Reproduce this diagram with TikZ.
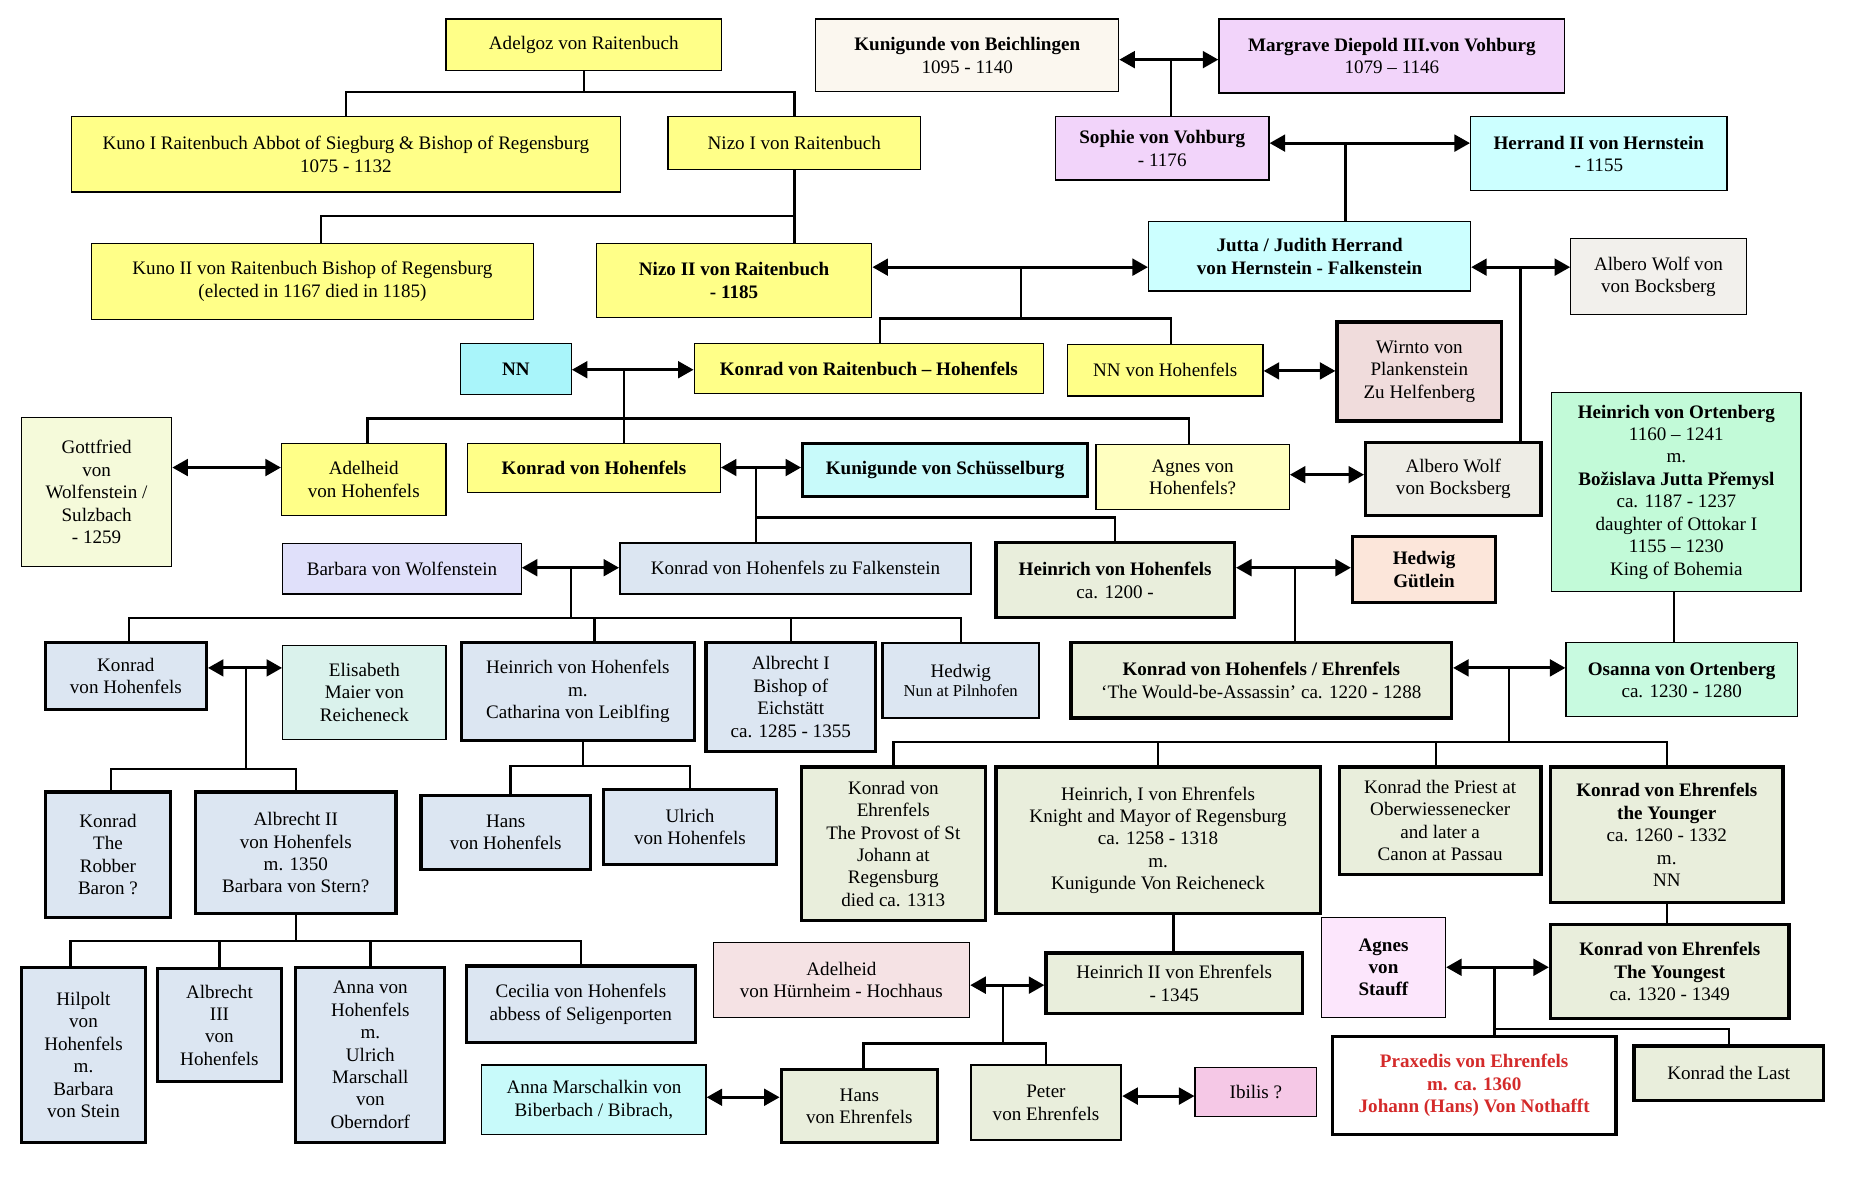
\documentclass[tikz,border=0pt]{standalone}
\usepackage{fontspec}
\setmainfont{Liberation Serif}
\usetikzlibrary{arrows.meta}
\definecolor{cyel}{HTML}{FFFF88}
\definecolor{ccream}{HTML}{FBF7EF}
\definecolor{cviol}{HTML}{F2D4FA}
\definecolor{ccyan}{HTML}{CCFFFF}
\definecolor{ccyanb}{HTML}{A9F5FA}
\definecolor{ccyanc}{HTML}{C8FAFA}
\definecolor{cgreya}{HTML}{F2F0EC}
\definecolor{cgreyb}{HTML}{EEEDE6}
\definecolor{cwirnto}{HTML}{F0DCDC}
\definecolor{cgott}{HTML}{F5FADA}
\definecolor{cagnes}{HTML}{FFFFC0}
\definecolor{cort}{HTML}{C2FAD8}
\definecolor{cosanna}{HTML}{C8FAE0}
\definecolor{cbarb}{HTML}{E0E0FA}
\definecolor{cblue}{HTML}{DCE6F2}
\definecolor{colive}{HTML}{E9EEDC}
\definecolor{chedg}{HTML}{FCE6DA}
\definecolor{celis}{HTML}{DAF2EC}
\definecolor{cadelh}{HTML}{F5E2E4}
\definecolor{cagness}{HTML}{FCE6FC}
\definecolor{cibilis}{HTML}{F5C8E6}
\definecolor{cred}{HTML}{D42A2A}
\newcommand\bx[7]{%
  \pgfmathsetmacro\bw{#4-#2}\pgfmathsetmacro\bh{#5-#3}%
  \pgfmathsetmacro\bcx{(#2+#4)/2}\pgfmathsetmacro\bcy{(#3+#5)/2}%
  \node[fbox,#6,minimum width=\bw pt,minimum height=\bh pt] (#1) at (\bcx,\bcy) {#7};}
\tikzset{
  fbox/.style={draw, line width=1pt, inner sep=1pt, align=center,
    font=\fontsize{16}{18.8}\selectfont, text=black},
  tk/.style={line width=2.7pt},
  md/.style={line width=1.9pt},
  ln/.style={line width=2pt},
  arr/.style={line width=2.4pt, {Triangle[length=13pt,width=14pt]}-{Triangle[length=13pt,width=14pt]}},
}
\begin{document}
\begin{tikzpicture}[x=1pt,y=-1pt]
\useasboundingbox (0,0) rectangle (1557,1008);
\fill[white] (0,0) rectangle (1557,1008);
% ---- row 1
\bx{adel}{374}{16}{605}{59}{fill=cyel}{Adelgoz von Raitenbuch}
\bx{kunb}{684}{16}{938}{77}{fill=ccream}{\textbf{Kunigunde von Beichlingen}\\1095 - 1140}
\bx{marg}{1022}{16}{1312}{78}{fill=cviol}{\textbf{Margrave Diepold III.von Vohburg}\\1079 – 1146}
% ---- row 2
\bx{kuno1}{60}{98}{520}{161}{fill=cyel}{Kuno I Raitenbuch Abbot of Siegburg \& Bishop of Regensburg\\1075 - 1132}
\bx{nizo1}{560}{98}{772}{142}{fill=cyel}{Nizo I von Raitenbuch}
\bx{sophie}{885}{98}{1064}{151}{fill=cviol}{\textbf{Sophie von Vohburg}\\- 1176}
\bx{herr}{1233}{98}{1448}{160}{fill=ccyan}{\textbf{Herrand II von Hernstein}\\- 1155}
% ---- row 3
\bx{kuno2}{77}{204}{447}{268}{fill=cyel}{Kuno II von Raitenbuch Bishop of Regensburg\\(elected in 1167 died in 1185)}
\bx{nizo2}{500}{204}{731}{266}{fill=cyel}{\textbf{Nizo II von Raitenbuch}\\\textbf{- 1185}}
\bx{jutta}{963}{186}{1233}{244}{fill=ccyan}{\textbf{Jutta / Judith Herrand}\\\textbf{von Hernstein - Falkenstein}}
\bx{albt}{1317}{200}{1464}{264}{fill=cgreya}{Albero Wolf von\\von Bocksberg}
% ---- row 4
\bx{nn}{386}{288}{479}{331}{fill=ccyanb}{\textbf{NN}}
\bx{konr}{582}{288}{875}{330}{fill=cyel}{\textbf{Konrad von Raitenbuch – Hohenfels}}
\bx{nnh}{895}{289}{1059}{332}{fill=cyel}{NN von Hohenfels}
\bx{wirnto}{1121}{270}{1259}{353}{fill=cwirnto,tk}{Wirnto von\\Plankenstein\\Zu Helfenberg}
% ---- row 5
\bx{gott}{18}{350}{144}{475}{fill=cgott}{Gottfried\\von\\Wolfenstein /\\Sulzbach\\- 1259}
\bx{adelh}{236}{372}{374}{432}{fill=cyel}{Adelheid\\von Hohenfels}
\bx{konh}{392}{372}{604}{413}{fill=cyel}{\textbf{Konrad von Hohenfels}}
\bx{kuns}{673}{372}{912}{416}{fill=ccyanc,tk}{\textbf{Kunigunde von Schüsselburg}}
\bx{agnes}{919}{373}{1081}{427}{fill=cagnes}{Agnes von\\Hohenfels?}
\bx{albl}{1145}{371}{1292}{432}{fill=cgreyb,tk}{Albero Wolf\\von Bocksberg}
\bx{ort}{1301}{329}{1510}{496}{fill=cort}{\textbf{Heinrich von Ortenberg}\\1160 – 1241\\m.\\\textbf{Božislava Jutta Přemysl}\\ca. 1187 - 1237\\daughter of Ottokar I\\1155 – 1230\\King of Bohemia}
% ---- row 6
\bx{barb}{237}{456}{437}{498}{fill=cbarb}{Barbara von Wolfenstein}
\bx{konf}{520}{455}{814}{498}{fill=cblue,md}{Konrad von Hohenfels zu Falkenstein}
\bx{heinh}{835}{455}{1035}{518}{fill=colive,tk}{\textbf{Heinrich von Hohenfels}\\ca. 1200 -}
\bx{hedg}{1134}{450}{1254}{505}{fill=chedg,tk}{\textbf{Hedwig}\\\textbf{Gütlein}}
% ---- row 7
\bx{konh2}{38}{539}{173}{595}{fill=cblue,tk}{Konrad\\von Hohenfels}
\bx{elis}{237}{541}{374}{620}{fill=celis}{Elisabeth\\Maier von\\Reicheneck}
\bx{heinc}{387}{539}{582}{621}{fill=cblue,tk}{Heinrich von Hohenfels\\m.\\Catharina von Leiblfing}
\bx{albi}{592}{539}{734}{630}{fill=cblue,tk}{Albrecht I\\Bishop of\\Eichstätt\\ca. 1285 - 1355}
\bx{hedn}{740}{539}{871}{602}{fill=cblue,md}{Hedwig\\[-3pt]{\fontsize{14}{15}\selectfont Nun at Pilnhofen}}
\bx{kone}{898}{539}{1217}{602}{fill=colive,tk}{\textbf{Konrad von Hohenfels / Ehrenfels}\\‘The Would-be-Assassin’ ca. 1220 - 1288}
\bx{osanna}{1313}{539}{1507}{601}{fill=cosanna}{\textbf{Osanna von Ortenberg}\\ca. 1230 - 1280}
% ---- row 8
\bx{robber}{38}{664}{143}{769}{fill=cblue,tk}{Konrad\\The\\Robber\\Baron ?}
\bx{albii}{164}{664}{332}{766}{fill=cblue,tk}{Albrecht II\\von Hohenfels\\m. 1350\\Barbara von Stern?}
\bx{hansh}{353}{667}{495}{729}{fill=cblue,tk}{Hans\\von Hohenfels}
\bx{ulrich}{506}{662}{651}{725}{fill=cblue,tk}{Ulrich\\von Hohenfels}
\bx{provost}{672}{643}{826}{772}{fill=colive,tk}{Konrad von\\Ehrenfels\\The Provost of St\\Johann at\\Regensburg\\died ca. 1313}
\bx{heini}{835}{643}{1107}{766}{fill=colive,tk}{Heinrich, I von Ehrenfels\\Knight and Mayor of Regensburg\\ca. 1258 - 1318\\m.\\Kunigunde Von Reicheneck}
\bx{priest}{1123}{643}{1292}{733}{fill=colive,tk}{Konrad the Priest at\\Oberwiessenecker\\and later a\\Canon at Passau}
\bx{younger}{1300}{643}{1495}{757}{fill=colive,tk}{\textbf{Konrad von Ehrenfels}\\\textbf{the Younger}\\ca. 1260 - 1332\\m.\\NN}
% ---- row 9
\bx{hilpolt}{18}{811}{122}{958}{fill=cblue,tk}{Hilpolt\\von\\Hohenfels\\m.\\Barbara\\von Stein}
\bx{albiii}{132}{812}{236}{907}{fill=cblue,tk}{Albrecht\\III\\von\\Hohenfels}
\bx{annah}{248}{811}{373}{958}{fill=cblue,tk}{Anna von\\Hohenfels\\m.\\Ulrich\\Marschall\\von\\Oberndorf}
\bx{cecilia}{391}{810}{583}{874}{fill=cblue,tk}{Cecilia von Hohenfels\\abbess of Seligenporten}
\bx{adelhh}{598}{790}{813}{853}{fill=cadelh}{Adelheid\\von Hürnheim - Hochhaus}
\bx{heinii}{877}{799}{1092}{850}{fill=colive,tk}{Heinrich II von Ehrenfels\\- 1345}
\bx{agness}{1108}{769}{1212}{853}{fill=cagness}{\textbf{Agnes}\\\textbf{von}\\\textbf{Stauff}}
\bx{youngest}{1300}{775}{1500}{854}{fill=colive,tk}{\textbf{Konrad von Ehrenfels}\\\textbf{The Youngest}\\ca. 1320 - 1349}
% ---- row 10
\bx{annam}{404}{893}{592}{951}{fill=ccyanc}{Anna Marschalkin von\\Biberbach / Bibrach,}
\bx{hanse}{655}{897}{786}{958}{fill=colive,tk}{Hans\\von Ehrenfels}
\bx{peter}{814}{893}{940}{956}{fill=colive,md}{Peter\\von Ehrenfels}
\bx{ibilis}{1002}{895}{1104}{936}{fill=cibilis}{Ibilis ?}
\bx{prax}{1117}{869}{1355}{951}{fill=white,tk,text=cred}{\textbf{Praxedis von Ehrenfels}\\\textbf{m. ca. 1360}\\\textbf{Johann (Hans) Von Nothafft}}
\bx{last}{1370}{877}{1529}{923}{fill=colive,tk}{Konrad the Last}
% ================= connectors
% Adelgoz children
\coordinate (bAd) at (489.5,77);
\draw[ln] (adel.south) -- (bAd);
\draw[ln] (kuno1.north) |- (bAd) -| (nizo1.north);
% Kunigunde - Margrave
\coordinate (jKM) at (982,50);
\draw[arr] (kunb.east |- jKM) -- (marg.west |- jKM);
\draw[ln] (jKM) -- (sophie.north -| jKM);
% Nizo I children
\coordinate (bN1) at (666,181);
\coordinate (k2t) at ([xshift=7pt]kuno2.north);
\draw[ln] (nizo1.south) -- (nizo2.north -| nizo1.south);
\draw[ln] (k2t) |- (bN1);
% Sophie - Herrand
\coordinate (jSH) at (1128,120);
\draw[arr] (sophie.east |- jSH) -- (herr.west |- jSH);
\draw[ln] (jSH) -- (jutta.north -| jSH);
% Nizo II - Jutta
\coordinate (jNJ) at (856,224);
\coordinate (bNJ) at (856,267);
\coordinate (krt) at ([xshift=9.5pt]konr.north);
\coordinate (nht) at ([xshift=5pt]nnh.north);
\draw[arr] (nizo2.east |- jNJ) -- (jutta.west |- jNJ);
\draw[ln] (jNJ) -- (bNJ);
\draw[ln] (krt) |- (bNJ) -| (nht);
% Jutta - Albero Wolf
\coordinate (jJA) at (1275,224);
\draw[arr] (jutta.east |- jJA) -- (albt.west |- jJA);
\draw[ln] (jJA) -- (albl.north -| jJA);
% NN - Konrad von Raitenbuch
\coordinate (jNK) at (523,310);
\coordinate (bNK) at (523,351);
\coordinate (aht) at ([xshift=3pt]adelh.north);
\coordinate (agt) at ([xshift=-3pt]agnes.north);
\draw[arr] (nn.east |- jNK) -- (konr.west |- jNK);
\draw[ln] (jNK) -- (konh.north -| jNK);
\draw[ln] (aht) |- (agt |- bNK) -- (agt);
% NN von Hohenfels - Wirnto
\coordinate (jNW) at (1090,311);
\draw[arr] (nnh.east |- jNW) -- (wirnto.west |- jNW);
% Gottfried - Adelheid
\coordinate (jGA) at (190,392);
\draw[arr] (gott.east |- jGA) -- (adelh.west |- jGA);
% Konrad von Hohenfels - Kunigunde von Schuesselburg
\coordinate (jKK) at (634,392);
\coordinate (bKK) at (634,434);
\draw[arr] (konh.east |- jKK) -- (kuns.west |- jKK);
\draw[ln] (jKK) -- (konf.north -| jKK);
\draw[ln] (bKK) -| (heinh.north);
% Agnes - Albero Wolf
\coordinate (jAA) at (1113,398);
\draw[arr] (agnes.east |- jAA) -- (albl.west |- jAA);
% Barbara - Konrad zu Falkenstein
\coordinate (jBK) at (479,476);
\coordinate (bBK) at (479,518);
\coordinate (kh2t) at ([xshift=2.5pt]konh2.north);
\coordinate (hct) at ([xshift=14pt]heinc.north);
\draw[arr] (barb.east |- jBK) -- (konf.west |- jBK);
\draw[ln] (jBK) -- (bBK);
\draw[ln] (kh2t) |- (hedn.north |- bBK) -- (hedn.north);
\draw[ln] (hct) -- (hct |- bBK);
\draw[ln] (albi.north) -- (albi.north |- bBK);
% Heinrich von Hohenfels - Hedwig Guetlein
\coordinate (jHH) at (1086,476);
\draw[arr] (heinh.east |- jHH) -- (hedg.west |- jHH);
\draw[ln] (jHH) -- (kone.north -| jHH);
% Ortenberg - Osanna
\coordinate (ob) at ([xshift=-2pt]ort.south);
\draw[ln] (ob) -- (osanna.north -| ob);
% Konrad - Elisabeth
\coordinate (jKE) at (206,560);
\coordinate (bKE) at (206,645);
\coordinate (rbt) at ([xshift=2.5pt]robber.north);
\draw[arr] (konh2.east |- jKE) -- (elis.west |- jKE);
\draw[ln] (jKE) -- (bKE);
\draw[ln] (rbt) |- (albii.north |- bKE) -- (albii.north);
% Heinrich m. Catharina children
\coordinate (bHC) at (489,642);
\coordinate (hcb) at ([xshift=4.5pt]heinc.south);
\coordinate (hht) at ([xshift=4pt]hansh.north);
\draw[ln] (hcb) -- (hcb |- bHC);
\draw[ln] (hht) |- (ulrich.north |- bHC) -- (ulrich.north);
% Konrad / Ehrenfels - Osanna
\coordinate (jKO) at (1265,560);
\coordinate (bKO) at (1265,622);
\coordinate (prt) at ([xshift=-3.5pt]priest.north);
\draw[arr] (kone.east |- jKO) -- (osanna.west |- jKO);
\draw[ln] (jKO) -- (bKO);
\draw[ln] (provost.north) |- (younger.north |- bKO) -- (younger.north);
\draw[ln] (heini.north) -- (heini.north |- bKO);
\draw[ln] (prt) -- (prt |- bKO);
% Albrecht II children
\coordinate (bA2) at (248,789);
\coordinate (hpt) at ([xshift=-11pt]hilpolt.north);
\draw[ln] (albii.south) -- (bA2);
\draw[ln] (hpt) |- (cecilia.north |- bA2) -- (cecilia.north);
\draw[ln] (albiii.north) -- (albiii.north |- bA2);
\draw[ln] (annah.north) -- (annah.north |- bA2);
% Heinrich I -> Heinrich II
\coordinate (h1b) at ([xshift=13pt]heini.south);
\draw[ln] (h1b) -- (heinii.north -| h1b);
% Younger -> Youngest
\draw[ln] (younger.south) -- (youngest.north -| younger.south);
% Adelheid von Huernheim - Heinrich II
\coordinate (jAH) at (841,826);
\coordinate (bAH) at (841,875);
\coordinate (het) at ([xshift=3.5pt]hanse.north);
\draw[arr] (adelhh.east |- jAH) -- (heinii.west |- jAH);
\draw[ln] (jAH) -- (bAH);
\draw[ln] (het) |- (peter.north |- bAH) -- (peter.north);
% Agnes von Stauff - Youngest
\coordinate (jAY) at (1253,811);
\coordinate (bAY) at (1253,863);
\draw[arr] (agness.east |- jAY) -- (youngest.west |- jAY);
\draw[ln] (jAY) -- (prax.north -| jAY);
\draw[ln] (bAY) -| (last.north);
% Anna Marschalkin - Hans
\coordinate (jAM) at (620,920);
\draw[arr] (annam.east |- jAM) -- (hanse.west |- jAM);
% Peter - Ibilis
\coordinate (jPI) at (970,919);
\draw[arr] (peter.east |- jPI) -- (ibilis.west |- jPI);
\end{tikzpicture}
\end{document}
